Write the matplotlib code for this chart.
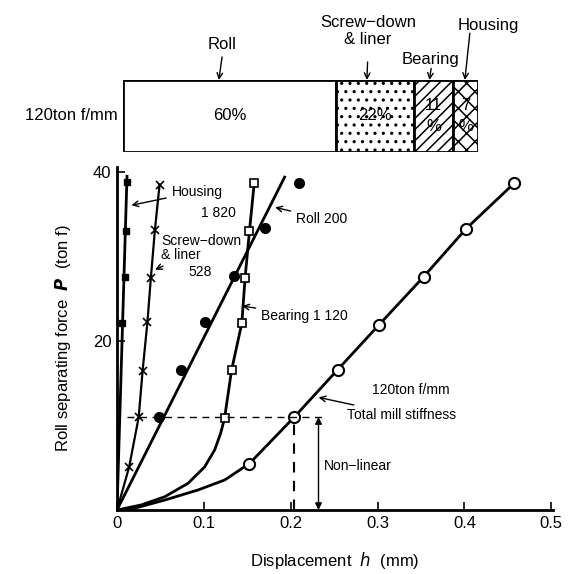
import matplotlib
matplotlib.use("Agg")
import matplotlib.pyplot as plt

plt.rcParams['font.family'] = ['Liberation Sans', 'DejaVu Sans']
plt.rcParams['hatch.linewidth'] = 1.1

# top bar: share of total deflection
bar_parts = ['Roll', 'Screw\u2212down\n& liner', 'Bearing', 'Housing']
bar_pct = [60, 22, 11, 7]
bar_hatch = ['', '..', '///', 'xx']
bar_text = ['60%', '22%', '11\n%', '7\n%']

# measured points (h in mm, P in ton f)
housing_h = [0.0110, 0.0100, 0.0095, 0.0055]
housing_p = [38.8, 33.0, 27.6, 22.1]
housing_line_h = [0.0, 0.0115]
housing_line_p = [0.0, 39.5]

screw_h = [0.049, 0.0436, 0.039, 0.035, 0.0295, 0.025, 0.014]
screw_p = [38.5, 33.1, 27.5, 22.2, 16.5, 11.0, 5.1]
screw_line_h = [0.0, 0.014, 0.025, 0.0295, 0.035, 0.039, 0.0436, 0.049]
screw_line_p = [0.0, 5.1, 11.0, 16.5, 22.2, 27.5, 33.1, 38.5]

roll_h = [0.210, 0.1705, 0.135, 0.101, 0.074, 0.0485]
roll_p = [38.7, 33.4, 27.7, 22.2, 16.6, 11.0]
roll_line_h = [0.0, 0.193]
roll_line_p = [0.0, 39.4]

bearing_h = [0.158, 0.1525, 0.1475, 0.1437, 0.132, 0.1239]
bearing_p = [38.7, 33.0, 27.5, 22.1, 16.6, 10.9]
bearing_line_h = [0.0, 0.028, 0.055, 0.0818, 0.1009, 0.1124, 0.1193, 0.1239,
                  0.132, 0.1437, 0.1475, 0.1525, 0.158]
bearing_line_p = [0.0, 0.6, 1.57, 3.16, 5.1, 7.1, 9.07, 10.9,
                  16.6, 22.1, 27.5, 33.0, 38.7]

total_h = [0.1525, 0.2041, 0.254, 0.3015, 0.353, 0.402, 0.4575]
total_p = [5.5, 11.0, 16.6, 21.9, 27.6, 33.3, 38.7]
total_line_h = [0.013, 0.055, 0.0933, 0.1239, 0.1525, 0.2041, 0.254, 0.3015,
                0.353, 0.402, 0.4575]
total_line_p = [0.0, 1.18, 2.37, 3.55, 5.5, 11.0, 16.6, 21.9, 27.6, 33.3, 38.7]

p_ref = 11.0
h_ref = 0.2041

fig = plt.figure(figsize=(5.73, 5.74), dpi=100)

# ---- top stacked bar ----
axb = fig.add_axes([123 / 573, 1 - 152 / 574, 355 / 573, 72 / 574])
left = 0
for pct, hatch, txt in zip(bar_pct, bar_hatch, bar_text):
    axb.barh(0, pct, left=left, height=1, color='white', edgecolor='black',
             hatch=hatch, linewidth=2)
    axb.text(left + pct / 2, 0, txt, ha='center', va='center', fontsize=12,
             linespacing=1.5)
    left += pct
axb.set_xlim(0, sum(bar_pct))
axb.set_ylim(-0.5, 0.5)
axb.axis('off')
axb.text(-1.5, 0, '120ton f/mm', ha='right', va='center', fontsize=12)

# labels above the bar: (text x, text y, arrow start x, arrow start y, arrow end x)
lab_pos = [(27.9, 0.99, 27.9, 0.82, 27.0),
           (69.0, 1.18, 68.9, 0.75, 68.7),
           (86.5, 0.78, 86.8, 0.66, 86.3),
           (102.8, 1.26, 97.7, 1.15, 96.3)]
for name, (tx, ty, ax0, ay0, ax1) in zip(bar_parts, lab_pos):
    axb.text(tx, ty, name, ha='center', va='center', fontsize=12, linespacing=1.1)
    axb.annotate('', xy=(ax1, 0.5), xytext=(ax0, ay0),
                 arrowprops=dict(arrowstyle='->', color='black', lw=1,
                                 shrinkA=0, shrinkB=0))

# ---- main plot ----
ax = fig.add_axes([117 / 573, 1 - 510 / 574, 436 / 573, 343 / 574])
lw = 2
ax.plot(housing_line_h, housing_line_p, color='black', lw=lw)
ax.plot(housing_h, housing_p, 's', color='black', ms=5)

ax.plot(screw_line_h, screw_line_p, color='black', lw=1.6)
ax.plot(screw_h, screw_p, 'x', color='black', ms=6, mew=1.2)

ax.plot(roll_line_h, roll_line_p, color='black', lw=lw)
ax.plot(roll_h, roll_p, 'o', color='black', ms=7)

ax.plot(bearing_line_h, bearing_line_p, color='black', lw=lw)
ax.plot(bearing_h, bearing_p, 's', mfc='white', mec='black', ms=6, mew=1.2)

ax.plot(total_line_h, total_line_p, color='black', lw=lw)
ax.plot(total_h, total_p, 'o', mfc='white', mec='black', ms=8, mew=1.5, clip_on=False)

# dashed guides
ax.plot([0.011, 0.24], [p_ref, p_ref], color='black', lw=1, ls=(0, (5, 4)))
ax.plot([h_ref, h_ref], [0, p_ref], color='black', lw=1.5, ls=(0, (5, 4)))
ax.annotate('', xy=(0.232, 0), xytext=(0.232, p_ref),
            arrowprops=dict(arrowstyle='<|-|>', color='black', lw=1, mutation_scale=10,
                            shrinkA=0, shrinkB=0))
ax.text(0.238, 5.2, 'Non\u2212linear', fontsize=10, va='center')

arrow = dict(arrowstyle='->', color='black', lw=1)
ax.annotate('Housing', xy=(0.0135, 36.0), xytext=(0.063, 37.7), fontsize=10,
            va='center', arrowprops=arrow)
ax.text(0.117, 35.1, '1 820', fontsize=10, ha='center', va='center')
ax.annotate('Screw\u2212down\n& liner', xy=(0.041, 28.3), xytext=(0.051, 31.0),
            fontsize=10, va='center', linespacing=1.0, arrowprops=arrow)
ax.text(0.096, 28.2, '528', fontsize=10, ha='center', va='center')
ax.annotate('Roll 200', xy=(0.179, 35.9), xytext=(0.206, 34.5), fontsize=10,
            va='center', arrowprops=arrow)
ax.annotate('Bearing 1 120', xy=(0.141, 24.2), xytext=(0.166, 23.0), fontsize=10,
            va='center', arrowprops=arrow)
ax.text(0.2935, 14.2, '120ton f/mm', fontsize=10, va='center')
ax.annotate('Total mill stiffness', xy=(0.229, 13.4), xytext=(0.265, 11.2),
            fontsize=10, va='center', arrowprops=arrow)

ax.set_xlim(0, 0.502)
ax.set_ylim(0, 40.6)
ax.set_xticks([0, 0.1, 0.2, 0.3, 0.4, 0.5])
ax.set_xticklabels(['0', '0.1', '0.2', '0.3', '0.4', '0.5'])
ax.set_yticks([0, 20, 40])
ax.set_yticklabels(['', '20', '40'])
ax.tick_params(direction='in', labelsize=12, width=1.2, length=6, pad=4)
for s in ['top', 'right']:
    ax.spines[s].set_visible(False)
for s in ['left', 'bottom']:
    ax.spines[s].set_linewidth(2)

ax.set_xlabel('Displacement  $h$  (mm)', fontsize=12, labelpad=14)
ax.set_ylabel('Roll separating force  $\\boldsymbol{P}$  (ton f)', fontsize=12, labelpad=14)

fig.savefig('out.png', dpi=100)
